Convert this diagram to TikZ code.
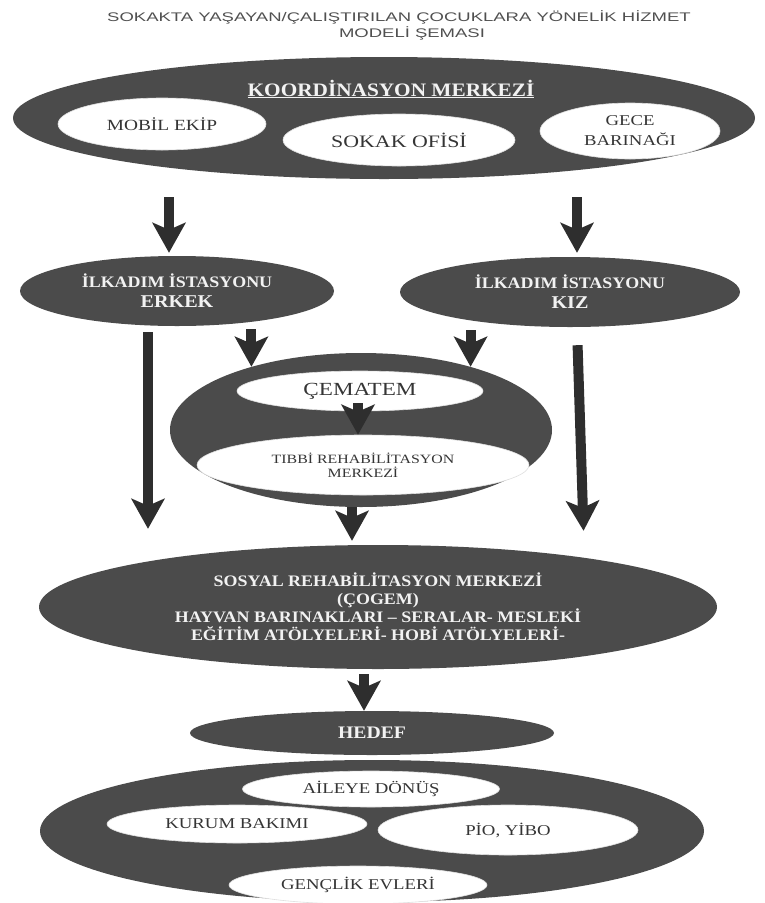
\documentclass[tikz,border=0pt]{standalone}
\usepackage{fontspec}
\setmainfont{Liberation Serif}
\newfontfamily\titlef[FakeStretch=1.48]{Liberation Sans}
\newfontfamily\darkf[FakeStretch=1.12]{Liberation Serif}
\newfontfamily\whitef[FakeStretch=1.25]{Liberation Serif}
\usetikzlibrary{shapes.geometric,arrows.meta}
\definecolor{dk}{HTML}{4B4B4B}
\definecolor{arrowc}{HTML}{2E2E2E}
\definecolor{lighttxt}{HTML}{F2F2F2}
\definecolor{darktxt}{HTML}{353535}
\definecolor{titlec}{HTML}{505050}
\newcommand\dfnt[2]{\darkf\bfseries\fontsize{#1}{#2}\selectfont}
\newcommand\wfnt[2]{\whitef\fontsize{#1}{#2}\selectfont}
\tikzset{
  darkell/.style={ellipse, fill=dk, inner sep=0pt, text=lighttxt, align=center},
  whiteell/.style={ellipse, fill=white, draw=gray!25, line width=0.6pt, inner sep=0pt, text=darktxt, align=center},
  arr/.style={draw=arrowc, line width=10pt, -{Stealth[length=30pt,width=33pt,inset=7pt]}},
  titletxt/.style={inner sep=0pt, text=titlec, font=\titlef\fontsize{12.5}{15}\selectfont},
}
\begin{document}
\begin{tikzpicture}[x=1pt,y=-1pt]
\useasboundingbox (0,0) rectangle (764,903);
% title
\node[titletxt] (t1) at (399,17) {SOKAKTA YAŞAYAN/ÇALIŞTIRILAN ÇOCUKLARA YÖNELİK HİZMET};
\node[titletxt] (t2) at (412,33) {MODELİ ŞEMASI};
% coordination centre
\node[darkell, minimum width=742pt, minimum height=122pt] (koord) at (384,118) {};
\node[inner sep=0pt, text=lighttxt, font=\dfnt{19}{22}] (koordl) at (391,89) {\underline{KOORDİNASYON MERKEZİ}};
\node[whiteell, minimum width=208pt, minimum height=52pt, font=\wfnt{15.5}{18}] (mobil) at (162,124) {MOBİL EKİP};
\node[whiteell, minimum width=232pt, minimum height=52pt, font=\wfnt{17.5}{20}] (sokak) at (399,140) {SOKAK OFİSİ};
\node[whiteell, minimum width=180pt, minimum height=56pt, font=\wfnt{15}{20}] (gece) at (630,131) {GECE\\BARINAĞI};
% stations
\node[darkell, minimum width=314pt, minimum height=70pt, font=\dfnt{16}{20}] (erkek) at (177,291)
  {İLKADIM İSTASYONU\\\fontsize{18}{20}\selectfont ERKEK};
\node[darkell, minimum width=340pt, minimum height=70pt, font=\dfnt{16}{20}] (kiz) at (570,292)
  {İLKADIM İSTASYONU\\\fontsize{18}{20}\selectfont KIZ};
% cematem
\node[darkell, minimum width=382pt, minimum height=154pt] (cematem) at (361,430) {};
\node[whiteell, minimum width=246pt, minimum height=40pt, font=\wfnt{18.5}{20}] (cemw) at (360,391) {ÇEMATEM};
\node[whiteell, minimum width=332pt, minimum height=60pt, font=\wfnt{12.7}{14}] (tibbi) at (363,465) {TIBBİ REHABİLİTASYON\\MERKEZİ};
% social rehabilitation
\node[darkell, minimum width=678pt, minimum height=124pt, font=\dfnt{16}{18}] (sosyal) at (378,607)
  {SOSYAL REHABİLİTASYON MERKEZİ\\(ÇOGEM)\\HAYVAN BARINAKLARI – SERALAR- MESLEKİ\\EĞİTİM ATÖLYELERİ- HOBİ ATÖLYELERİ-};
% target
\node[darkell, minimum width=364pt, minimum height=44pt, font=\dfnt{17.6}{20}] (hedef) at (372,733) {HEDEF};
\node[darkell, minimum width=664pt, minimum height=142pt] (bottom) at (372,831) {};
\node[whiteell, minimum width=257pt, minimum height=36pt, font=\wfnt{15}{18}] (aileye) at (371,789) {AİLEYE DÖNÜŞ};
\node[whiteell, minimum width=260pt, minimum height=38pt, font=\wfnt{15}{18}] (kurum) at (237,824) {KURUM BAKIMI};
\node[whiteell, minimum width=260pt, minimum height=50pt, font=\wfnt{15}{18}] (pio) at (508,830) {PİO, YİBO};
\node[whiteell, minimum width=258pt, minimum height=38pt, font=\wfnt{15}{18}] (genclik) at (358,885) {GENÇLİK EVLERİ};
% arrow columns
\coordinate (xa) at (169,0);
\coordinate (xb) at (577,0);
\coordinate (xl) at (148,0);
\coordinate (xr) at (584,0);
\coordinate (xm) at (352,0);
\coordinate (xh) at (364,0);
\coordinate (xi) at (358,0);
% connectors
\draw[arr, shorten <=18pt, shorten >=3pt] (koord.south -| xa) -- (erkek.north -| xa);
\draw[arr, shorten <=18pt, shorten >=4pt] (koord.south -| xb) -- (kiz.north -| xb);
\draw[arr, shorten <=3pt] (erkek.south -| cematem.150) -- (cematem.150);
\draw[arr, shorten <=3pt] (kiz.south -| cematem.30) -- (cematem.30);
\draw[arr, shorten <=6pt, shorten >=16pt] (erkek.south -| xl) -- (sosyal.north -| xl);
\draw[arr, shorten <=18pt, shorten >=14pt] (kiz.south -| xb) -- (sosyal.north -| xr);
\draw[arr, shorten >=4pt] (cematem.south -| xm) -- (sosyal.north -| xm);
\draw[arr, shorten <=5pt] (sosyal.south -| xh) -- (hedef.north -| xh);
\draw[arr, shorten <=-8pt] (cemw.south -| xi) -- (tibbi.north -| xi);
\end{tikzpicture}
\end{document}
